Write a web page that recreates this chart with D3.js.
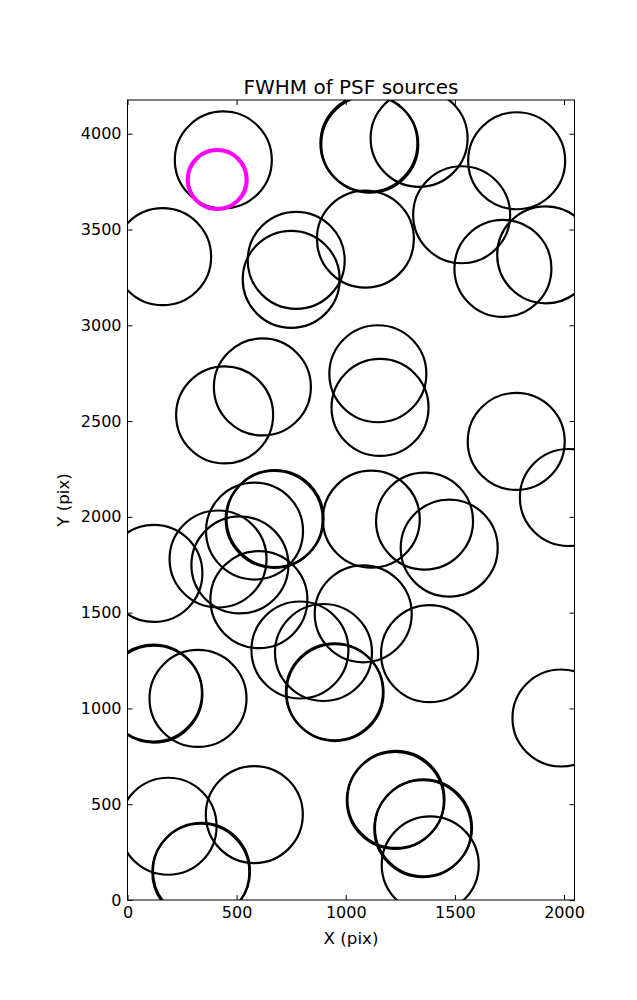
<!DOCTYPE html>
<html>
<head>
<meta charset="utf-8">
<script src="https://cdn.jsdelivr.net/npm/d3@7"></script>
<style>
  html, body { margin: 0; padding: 0; background: #fff; }
  svg { display: block; font-family: "DejaVu Sans", sans-serif; }
</style>
</head>
<body>
<svg id="chart" width="637" height="1000"></svg>
<script>
// Source positions (detector pixels)
const srcX = [439, 161, 773, 750, 1090, 1106, 1110, 1336, 1783, 1531, 1916, 1720,
  1147, 1157, 1781, 2020, 445, 618, 1117, 1361, 1474, 121, 415, 515, 582, 672, 676,
  602, 790, 1080, 1384, 898, 951, 948, 1986, 121, 119, 323, 186, 581, 336, 339,
  1227, 1230, 1353, 1356, 1387];
const srcY = [3863, 3358, 3339, 3240, 3450, 3950, 3945, 3976, 3859, 3577, 3368, 3297,
  2747, 2571, 2394, 2101, 2532, 2678, 1988, 1978, 1837, 1705, 1780, 1749, 1926, 1987, 1991,
  1568, 1305, 1494, 1286, 1292, 1083, 1087, 950, 1075, 1080, 1052, 385, 446, 145, 150,
  520, 525, 372, 377, 183];
// Highlighted source
const hiX = [411];
const hiY = [3761];

const xTicks = [0, 500, 1000, 1500, 2000];
const yTicks = [0, 500, 1000, 1500, 2000, 2500, 3000, 3500, 4000];
const xDomain = [0, 2048];
const yDomain = [0, 4176];

const L = 127.5, T = 100, W = 447, H = 800;
const svg = d3.select("#chart");
const x = d3.scaleLinear().domain(xDomain).range([L, L + W]);
const y = d3.scaleLinear().domain(yDomain).range([T + H, T]);

svg.append("defs").append("clipPath").attr("id", "clip")
  .append("rect").attr("x", L).attr("y", T).attr("width", W).attr("height", H);

const g = svg.append("g").attr("clip-path", "url(#clip)");
const pts = srcX.map((v, i) => ({ x: v, y: srcY[i] }));
g.selectAll("circle.src").data(pts).enter().append("circle")
  .attr("class", "src")
  .attr("cx", d => x(d.x)).attr("cy", d => y(d.y)).attr("r", 48.5)
  .attr("fill", "none").attr("stroke", "#000").attr("stroke-width", 2.2);

const hp = hiX.map((v, i) => ({ x: v, y: hiY[i] }));
g.selectAll("circle.hi").data(hp).enter().append("circle")
  .attr("class", "hi")
  .attr("cx", d => x(d.x)).attr("cy", d => y(d.y)).attr("r", 29.5)
  .attr("fill", "none").attr("stroke", "#ff00ff").attr("stroke-width", 4.2);

// Axes (ticks inward on all sides)
const fmt = d3.format("d");
const ax = svg.append("g").attr("transform", `translate(0,${T + H})`)
  .call(d3.axisBottom(x).tickValues(xTicks).tickFormat(fmt).tickSizeInner(-5).tickSizeOuter(0).tickPadding(7));
const axT = svg.append("g").attr("transform", `translate(0,${T})`)
  .call(d3.axisTop(x).tickValues(xTicks).tickFormat("").tickSizeInner(-5).tickSizeOuter(0));
const ay = svg.append("g").attr("transform", `translate(${L},0)`)
  .call(d3.axisLeft(y).tickValues(yTicks).tickFormat(fmt).tickSizeInner(-5).tickSizeOuter(0).tickPadding(6));
const ayR = svg.append("g").attr("transform", `translate(${L + W},0)`)
  .call(d3.axisRight(y).tickValues(yTicks).tickFormat("").tickSizeInner(-5).tickSizeOuter(0));
[ax, axT, ay, ayR].forEach(a => {
  a.select(".domain").remove();
  a.selectAll("line").attr("stroke", "#000").attr("stroke-width", 1);
  a.selectAll("text").attr("font-family", "DejaVu Sans, sans-serif").attr("font-size", 16).attr("fill", "#000");
});

svg.append("rect").attr("x", L).attr("y", T).attr("width", W).attr("height", H)
  .attr("fill", "none").attr("stroke", "#000").attr("stroke-width", 1);

svg.append("text").attr("x", L + W / 2).attr("y", 94).attr("text-anchor", "middle")
  .attr("font-size", 20).text("FWHM of PSF sources");
svg.append("text").attr("x", L + W / 2).attr("y", 944).attr("text-anchor", "middle")
  .attr("font-size", 16.7).text("X (pix)");
svg.append("text").attr("transform", `translate(69,${T + H / 2}) rotate(-90)`).attr("text-anchor", "middle")
  .attr("font-size", 16.7).text("Y (pix)");
</script>
</body>
</html>
